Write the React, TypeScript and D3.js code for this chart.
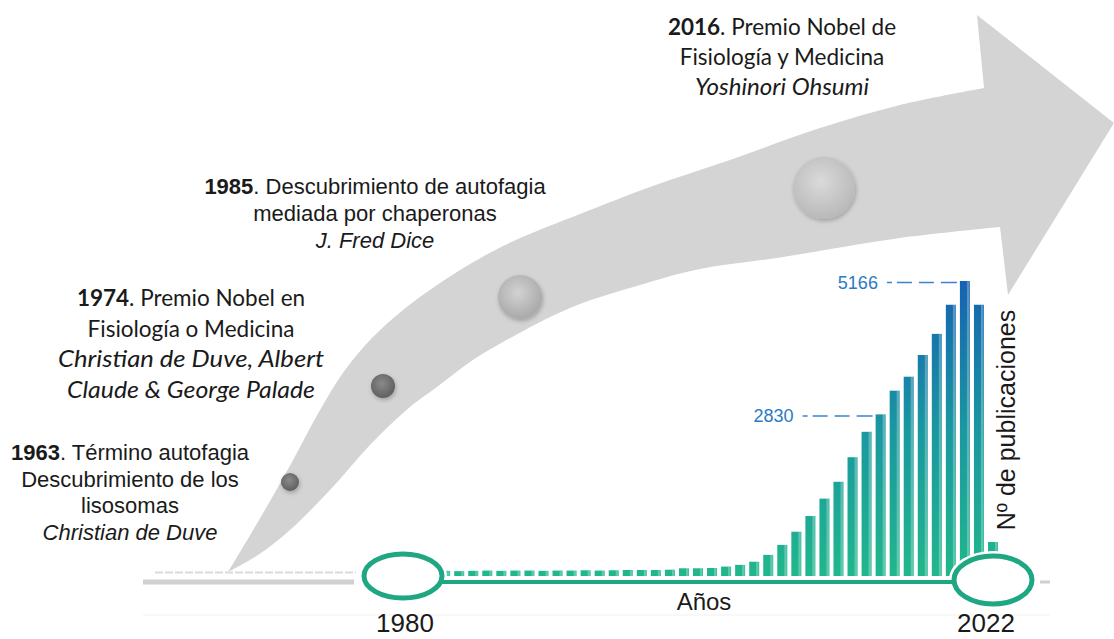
import React from "react";
import * as d3 from "d3";

// ---------- DATA ----------
const years = [
  1980, 1981, 1982, 1983, 1984, 1985, 1986, 1987, 1988, 1989,
  1990, 1991, 1992, 1993, 1994, 1995, 1996, 1997, 1998, 1999,
  2000, 2001, 2002, 2003, 2004, 2005, 2006, 2007, 2008, 2009,
  2010, 2011, 2012, 2013, 2014, 2015, 2016, 2017, 2018, 2019,
  2020, 2021, 2022,
];
const publications = [
  80, 85, 80, 90, 85, 90, 95, 90, 95, 95,
  90, 95, 95, 100, 95, 100, 105, 105, 105, 110,
  135, 135, 140, 165, 195, 250, 370, 545, 775, 1050,
  1355, 1650, 2080, 2525, 2830, 3245, 3490, 3870, 4240, 4750,
  5166, 4750, 595,
];
const highlightYears = [2014, 2020];
const highlightLabels = ["2830", "5166"];
const axisYearLabels = ["1980", "2022"];
const xTitle = "Años";
const yTitle = "Nº de publicaciones";

const m1963 = { year: "1963", first: ". Término autofagia", lines: ["Descubrimiento de los", "lisosomas"], italic: ["Christian de Duve"] };
const m1974 = { year: "1974", first: ". Premio Nobel en", lines: ["Fisiología o Medicina"], italic: ["Christian de Duve, Albert", "Claude & George Palade"] };
const m1985 = { year: "1985", first: ". Descubrimiento de autofagia", lines: ["mediada por chaperonas"], italic: ["J. Fred Dice"] };
const m2016 = { year: "2016", first: ". Premio Nobel de", lines: ["Fisiología y Medicina"], italic: ["Yoshinori Ohsumi"] };

// ---------- LAYOUT ----------
const W = 1114;
const H = 639;
const ARIAL = "'Liberation Sans', Arial, sans-serif";
const CALI = "Lato, 'Open Sans', sans-serif";
const TEAL = "#1fa784";

const x = d3.scaleLinear().domain([1980, 2022]).range([403, 993]);
const y = d3.scaleLinear().domain([0, 5166]).range([576, 281]);
const BAR_W = 10;

const upperEdge: [number, number][] = [
  [228, 572], [262, 515], [292, 462], [320, 410], [345, 370], [372, 338],
  [403, 310], [437, 285], [470, 264], [503, 246], [537, 231], [570, 218],
  [650, 187], [730, 160], [820, 128], [900, 105], [984, 88],
];
const lowerEdge: [number, number][] = [
  [1000, 227], [900, 238], [777, 258], [700, 269], [640, 285], [570, 308],
  [503, 342], [470, 362], [437, 387], [410, 407], [370, 445], [330, 490],
  [290, 530], [258, 555], [228, 572],
];

function arrowPath() {
  const line = d3.line().curve(d3.curveCatmullRom.alpha(0.5));
  const up = line(upperEdge) as string;
  const low = (line(lowerEdge) as string).replace(/^M/, "L");
  return `${up} L977,15 L1114,123 L1008,295 ${low} Z`;
}

const dots = [
  { cx: 290, cy: 482, r: 9, g: "gDark" },
  { cx: 383, cy: 386, r: 12, g: "gDark" },
  { cx: 520, cy: 297, r: 22, g: "gMid" },
  { cx: 824, cy: 188, r: 31, g: "gLight" },
];

type M = { year: string; first: string; lines: string[]; italic: string[] };

function Block({ m, cx, top, lh, size, family, italicWidths }: { m: M; cx: number; top: number; lh: number; size: number; family: string; italicWidths?: number[] }) {
  const all = [
    ...m.lines.map((t) => ({ t, it: false, w: undefined as number | undefined })),
    ...m.italic.map((t, j) => ({ t, it: true, w: italicWidths ? italicWidths[j] : undefined })),
  ];
  return (
    <text textAnchor="middle" fontFamily={family} fontSize={size} fill="#1a1a1a">
      <tspan x={cx} y={top}>
        <tspan fontWeight="bold">{m.year}</tspan>
        {m.first}
      </tspan>
      {all.map((l, i) => (
        <tspan
          key={i}
          x={cx}
          y={top + lh * (i + 1)}
          fontStyle={l.it ? "italic" : "normal"}
          {...(l.w ? { textLength: l.w, lengthAdjust: "spacingAndGlyphs" } : {})}
        >
          {l.t}
        </tspan>
      ))}
    </text>
  );
}

export default function App() {
  const e1980 = { cx: x(1980), cy: 576, rx: 39, ry: 22 };
  const e2022 = { cx: x(2022), cy: 580, rx: 39, ry: 24 };
  return (
    <svg width={W} height={H} style={{ position: "absolute", left: 0, top: 0, background: "#fff" }}>
      <defs>
        <linearGradient id="barGrad" gradientUnits="userSpaceOnUse" x1="0" y1={y(0)} x2="0" y2={y(5166)}>
          <stop offset="0%" stopColor="#21b78c" />
          <stop offset="50%" stopColor="#1a97a0" />
          <stop offset="100%" stopColor="#1562b2" />
        </linearGradient>
        <radialGradient id="gDark" cx="45%" cy="40%" r="60%">
          <stop offset="0%" stopColor="#8a8a8a" />
          <stop offset="100%" stopColor="#5f5f5f" />
        </radialGradient>
        <radialGradient id="gMid" cx="45%" cy="40%" r="60%">
          <stop offset="0%" stopColor="#d2d2d2" />
          <stop offset="100%" stopColor="#a9a9a9" />
        </radialGradient>
        <radialGradient id="gLight" cx="45%" cy="40%" r="60%">
          <stop offset="0%" stopColor="#dadada" />
          <stop offset="100%" stopColor="#b9b9b9" />
        </radialGradient>
        <filter id="shadow" x="-50%" y="-50%" width="200%" height="200%">
          <feDropShadow dx="1" dy="2" stdDeviation="2" floodColor="#000" floodOpacity="0.25" />
        </filter>
      </defs>

      <line x1={143} x2={1050} y1={615} y2={615} stroke="#f1f1f1" strokeWidth={1} />

      <path d={arrowPath()} fill="#d4d4d4" />

      {dots.map((d, i) => (
        <circle key={i} cx={d.cx} cy={d.cy} r={d.r} fill={`url(#${d.g})`} filter="url(#shadow)" />
      ))}

      <line x1={143} x2={354} y1={582} y2={582} stroke="#d0d0d0" strokeWidth={5} />
      <line x1={155} x2={356} y1={572.5} y2={572.5} stroke="#dadada" strokeWidth={2} strokeDasharray="8 2" />
      <line x1={1040} x2={1050} y1={582} y2={582} stroke="#cfcfcf" strokeWidth={3} />

      {years.map((yr, i) => {
        const v = publications[i];
        const bx = x(yr) - BAR_W / 2;
        const top = y(v);
        return (
          <g key={yr}>
            <rect x={bx} y={top} width={BAR_W} height={y(0) - top} fill="url(#barGrad)" />
            <rect x={bx + BAR_W - 3} y={top} width={2.5} height={y(0) - top} fill="#fff" opacity={0.28} />
          </g>
        );
      })}

      {[e1980, e2022].map((e, i) => (
        <ellipse key={i} cx={e.cx} cy={e.cy} rx={e.rx} ry={e.ry} fill="#fff" stroke="#fff" strokeWidth={10} />
      ))}

      <line x1={e1980.cx + e1980.rx} x2={e2022.cx - e2022.rx} y1={582} y2={582} stroke={TEAL} strokeWidth={4} />

      {[e1980, e2022].map((e, i) => (
        <ellipse key={i} cx={e.cx} cy={e.cy} rx={e.rx} ry={e.ry} fill="none" stroke={TEAL} strokeWidth={5} />
      ))}

      {highlightYears.map((yr, i) => {
        const v = publications[years.indexOf(yr)];
        const bx = x(yr) - BAR_W / 2;
        const yy = y(v) + 1.5;
        return (
          <g key={yr}>
            <line x1={bx - 73} x2={bx} y1={yy} y2={yy} stroke="#3a84cf" strokeWidth={1.5} strokeDasharray="5 5 15 7 15 7 16" />
            <text x={bx - 82} y={yy + 6.5} textAnchor="end" fontFamily={ARIAL} fontSize={18} fill="#2b7bc4">
              {highlightLabels[i]}
            </text>
          </g>
        );
      })}

      <text x={405} y={632} textAnchor="middle" fontFamily={ARIAL} fontSize={26} fill="#1a1a1a">{axisYearLabels[0]}</text>
      <text x={986} y={632} textAnchor="middle" fontFamily={ARIAL} fontSize={26} fill="#1a1a1a">{axisYearLabels[1]}</text>
      <text x={704} y={610} textAnchor="middle" fontFamily={ARIAL} fontSize={24} fill="#1a1a1a">{xTitle}</text>
      <text transform="translate(1015,420) rotate(-90)" textAnchor="middle" fontFamily={ARIAL} fontSize={25} fill="#1a1a1a">{yTitle}</text>

      <Block m={m1963} cx={130} top={460} lh={26.5} size={22} family={ARIAL} />
      <Block m={m1974} cx={191} top={306} lh={30.5} size={22.5} family={CALI} italicWidths={[266, 248]} />
      <Block m={m1985} cx={375} top={194} lh={27} size={22} family={ARIAL} />
      <Block m={m2016} cx={782} top={35} lh={30} size={22.5} family={CALI} italicWidths={[174]} />
    </svg>
  );
}
